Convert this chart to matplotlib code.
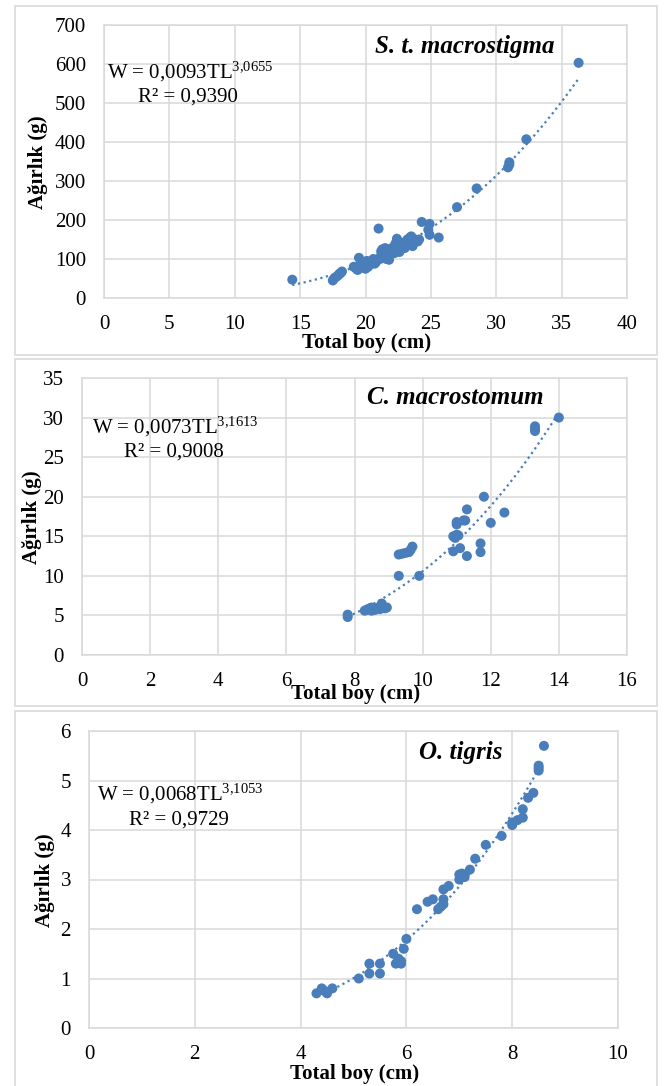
import matplotlib
matplotlib.use("Agg")
import matplotlib.pyplot as plt
from matplotlib.patches import Rectangle
import numpy as np

plt.rcParams['font.family'] = ['Liberation Serif', 'DejaVu Serif']
plt.rcParams['mathtext.fontset'] = 'custom'
plt.rcParams['mathtext.rm'] = 'Liberation Serif'
plt.rcParams['mathtext.it'] = 'Liberation Serif:italic'
plt.rcParams['mathtext.bf'] = 'Liberation Serif:bold'

# ---------------- data ----------------
# Panel 1: S. t. macrostigma
st_tl = [14.4, 17.5, 17.6, 17.8, 17.9, 18.0, 18.2, 18.1,
         19.1, 19.3, 19.4, 19.5, 19.6, 19.8, 19.9, 20.0, 20.0, 20.1, 20.2, 20.3,
         20.5, 20.6, 20.7, 20.8, 20.9, 21.0, 21.1, 21.2, 21.2, 21.3, 21.4, 21.5,
         21.5, 21.6, 21.7, 21.8, 21.8, 21.9, 22.0, 22.1, 22.2, 22.3, 22.4, 22.5,
         22.5, 22.6, 22.7, 22.8, 22.9, 23.0, 23.1, 23.2, 23.3, 23.4, 23.5, 23.6,
         23.7, 23.8, 24.0, 24.1, 24.3, 24.9, 24.8, 24.9, 25.6, 27.0, 28.5, 30.9,
         31.0, 31.0, 32.3, 36.3]
st_w = [47, 45, 50, 55, 58, 62, 68, 64,
        80, 75, 72, 103, 85, 78, 82, 75, 90, 95, 80, 85,
        95, 100, 88, 92, 98, 178, 100, 110, 120, 125, 105, 115,
        128, 100, 118, 112, 98, 125, 120, 130, 115, 140, 152, 125,
        145, 118, 135, 130, 140, 128, 145, 150, 138, 155, 158, 133,
        148, 150, 145, 150, 195, 190, 175, 162, 155, 233, 281, 335,
        342, 348, 407, 603]
st_a, st_b, st_r2 = 0.0093, 3.0655, "0,9390"

# Panel 2: C. macrostomum
cm_tl = [7.8, 7.8, 8.3, 8.35, 8.4, 8.45, 8.5, 8.5, 8.55, 8.6, 8.65, 8.7, 8.75,
         8.8, 8.8, 8.85, 8.9, 8.95, 9.3, 9.9, 9.3, 9.4, 9.5, 9.6, 9.65, 9.7,
         10.9, 10.9, 10.95, 11.0, 11.05, 11.0, 11.0, 11.1, 11.2, 11.25, 11.3,
         11.3, 11.7, 11.7, 11.8, 12.0, 12.4, 13.3, 13.3, 13.3, 14.0]
cm_w = [5.1, 4.8, 5.6, 5.7, 5.8, 5.9, 5.6, 6.0, 5.8, 5.7, 5.9, 6.0, 5.8,
        6.5, 6.2, 6.0, 5.9, 6.0, 10.0, 10.0, 12.7, 12.8, 12.9, 13.0, 13.3, 13.7,
        13.1, 15.0, 14.8, 15.2, 15.1, 16.8, 16.5, 13.5, 17.0, 17.0, 12.5,
        18.4, 13.0, 14.1, 20.0, 16.7, 18.0, 28.3, 28.6, 28.9, 30.0]
cm_a, cm_b, cm_r2 = 0.0073, 3.1613, "0,9008"

# Panel 3: O. tigris
ot_tl = [4.3, 4.4, 4.5, 4.6, 4.45, 5.1, 5.3, 5.3, 5.5, 5.5, 5.75, 5.8, 5.85,
         5.9, 5.9, 5.95, 6.0, 6.2, 6.4, 6.5, 6.6, 6.7, 6.7, 6.7, 6.8, 6.65,
         7.0, 7.0, 7.05, 7.1, 7.2, 7.3, 7.5, 7.8, 8.0, 8.0, 8.1, 8.2, 8.2,
         8.3, 8.4, 8.5, 8.5, 8.5, 8.6]
ot_w = [0.7, 0.8, 0.7, 0.8, 0.75, 1.0, 1.1, 1.3, 1.3, 1.1, 1.5, 1.3, 1.4,
        1.35, 1.3, 1.6, 1.8, 2.4, 2.55, 2.6, 2.4, 2.5, 2.6, 2.8, 2.87, 2.45,
        3.0, 3.1, 3.12, 3.05, 3.2, 3.42, 3.7, 3.88, 4.1, 4.15, 4.2, 4.25, 4.42,
        4.65, 4.75, 5.2, 5.25, 5.3, 5.7]
ot_a, ot_b, ot_r2 = 0.0068, 3.1053, "0,9729"

titles = ["S. t. macrostigma", "C. macrostomum", "O. tigris"]
xlabel = "Total boy (cm)"
ylabel = "Ağırlık (g)"

# ---------------- layout ----------------
W, H = 670, 1086
fig = plt.figure(figsize=(W / 100, H / 100), dpi=100)
fig.patch.set_facecolor('white')

def fx(px):
    return px / W

def fy(py):
    return 1 - py / H

BLUE = '#4a7ebb'
GRID = '#d9d9d9'

panels = [
    dict(tl=st_tl, w=st_w, a=st_a, b=st_b, r2=st_r2, title=titles[0],
         box=(104, 627, 25, 298), xlim=(0, 40), xt=np.arange(0, 41, 5),
         ylim=(0, 700), yt=np.arange(0, 701, 100),
         frame=(15, 6, 657, 355), title_xy=(465, 46),
         eq_xy=(107, 72), r2_xy=(138, 97),
         ylab_xy=(38, 162), xlab_xy=(367, 343)),
    dict(tl=cm_tl, w=cm_w, a=cm_a, b=cm_b, r2=cm_r2, title=titles[1],
         box=(82, 627, 378, 655), xlim=(0, 16), xt=np.arange(0, 17, 2),
         ylim=(0, 35), yt=np.arange(0, 36, 5),
         frame=(15, 359, 657, 706), title_xy=(455, 397),
         eq_xy=(92, 427), r2_xy=(124, 452),
         ylab_xy=(32, 517), xlab_xy=(356, 694)),
    dict(tl=ot_tl, w=ot_w, a=ot_a, b=ot_b, r2=ot_r2, title=titles[2],
         box=(89, 618, 731, 1028), xlim=(0, 10), xt=np.arange(0, 11, 2),
         ylim=(0, 6), yt=np.arange(0, 7, 1),
         frame=(15, 711, 657, 1092), title_xy=(461, 752),
         eq_xy=(97, 794), r2_xy=(129, 820),
         ylab_xy=(45, 880), xlab_xy=(355, 1074)),
]

for p in panels:
    # panel frame
    x0, y0, x1, y1 = p['frame']
    fig.add_artist(Rectangle((fx(x0), fy(y1)), fx(x1) - fx(x0), fy(y0) - fy(y1),
                             transform=fig.transFigure, fill=False,
                             edgecolor=GRID, lw=1.2))
    l, r, t, b = p['box']
    ax = fig.add_axes([fx(l), fy(b), fx(r) - fx(l), fy(t) - fy(b)])
    ax.set_xlim(*p['xlim'])
    ax.set_ylim(*p['ylim'])
    ax.set_xticks(p['xt'])
    ax.set_yticks(p['yt'])
    ax.grid(True, color=GRID, lw=1.1)
    ax.set_axisbelow(True)
    for s in ax.spines.values():
        s.set_color(GRID)
        s.set_linewidth(1.1)
    ax.tick_params(length=0, labelsize=15)
    ax.tick_params(axis='x', pad=12)
    ax.tick_params(axis='y', pad=13)

    tl = np.array(p['tl'])
    ax.scatter(tl, p['w'], s=52, color=BLUE, edgecolors='none', zorder=3)
    xs = np.linspace(tl.min(), tl.max(), 200)
    ax.plot(xs, p['a'] * xs ** p['b'], color=BLUE, lw=1.6,
            linestyle=(0, (1, 1.6)), zorder=4)

    tx, ty = p['title_xy']
    fig.text(fx(tx), fy(ty), p['title'], fontsize=18, fontweight='bold',
             fontstyle='italic', ha='center', va='center')
    a_str = f"{p['a']:.4f}".replace('.', ',')
    b_str = f"{p['b']:.4f}".replace('.', '{,}')
    ex, ey = p['eq_xy']
    fig.text(fx(ex), fy(ey), f"W = {a_str}TL$^{{{b_str}}}$", fontsize=15,
             ha='left', va='center')
    rx, ry = p['r2_xy']
    fig.text(fx(rx), fy(ry), f"R² = {p['r2']}", fontsize=15,
             ha='left', va='center')
    lx, ly = p['ylab_xy']
    fig.text(fx(lx), fy(ly), ylabel, fontsize=15, fontweight='bold',
             rotation=90, ha='center', va='center')
    xx, xy = p['xlab_xy']
    fig.text(fx(xx), fy(xy), xlabel, fontsize=15, fontweight='bold',
             ha='center', va='center')

fig.savefig('out.png', dpi=100, facecolor='white')
